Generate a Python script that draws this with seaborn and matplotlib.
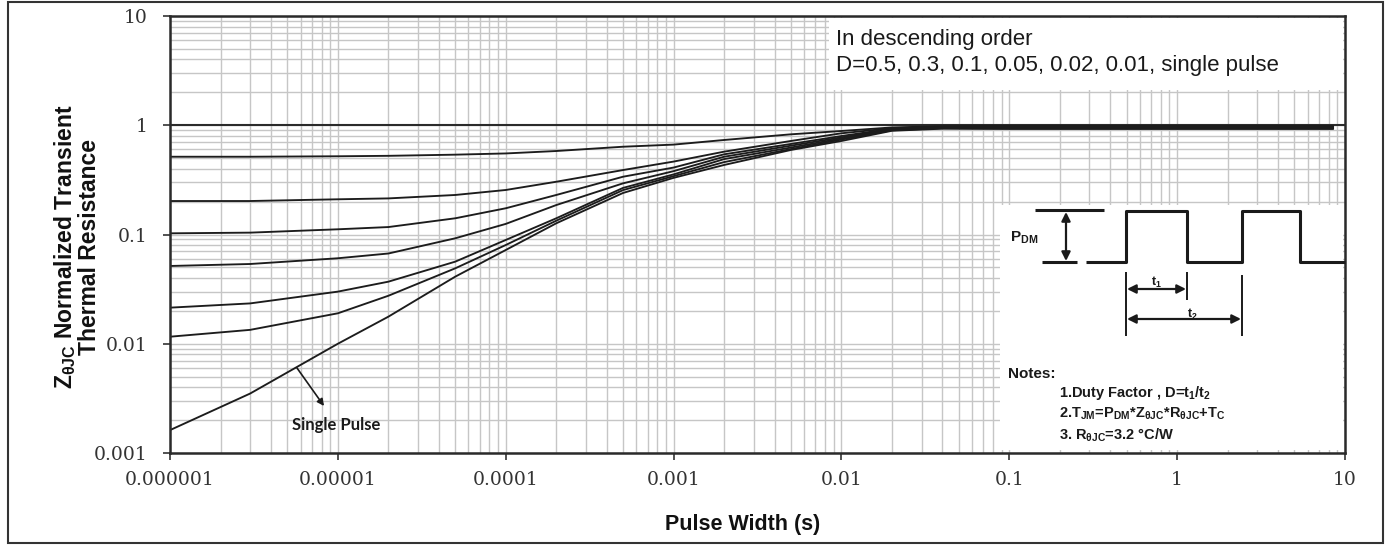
import numpy as np
import pandas as pd
import matplotlib
matplotlib.use("Agg")
import matplotlib.pyplot as plt
import seaborn as sns
from matplotlib.patches import Rectangle
from matplotlib.ticker import FixedLocator, FixedFormatter, LogLocator, NullFormatter

# ---------------- data ----------------
pulse_width = [1e-6, 3e-6, 1e-5, 2e-5, 5e-5, 1e-4, 2e-4, 5e-4, 1e-3, 2e-3, 5e-3, 1e-2, 2e-2, 4e-2, 0.1, 1, 8.5]
z_d050 = [0.515, 0.515, 0.520, 0.525, 0.538, 0.552, 0.581, 0.636, 0.665, 0.733, 0.826, 0.886, 0.955, 0.980, 0.985, 0.985, 0.985]
z_d030 = [0.2025, 0.2025, 0.210, 0.214, 0.230, 0.2555, 0.304, 0.389, 0.465, 0.573, 0.718, 0.844, 0.940, 0.970, 0.975, 0.975, 0.975]
z_d010 = [0.1025, 0.104, 0.1116, 0.117, 0.1407, 0.1738, 0.230, 0.338, 0.410, 0.542, 0.674, 0.797, 0.930, 0.960, 0.965, 0.965, 0.965]
z_d005 = [0.0515, 0.0537, 0.0606, 0.067, 0.0923, 0.125, 0.186, 0.294, 0.380, 0.515, 0.650, 0.775, 0.920, 0.955, 0.955, 0.955, 0.955]
z_d002 = [0.0214, 0.0234, 0.0300, 0.037, 0.0564, 0.0891, 0.1407, 0.267, 0.355, 0.490, 0.625, 0.757, 0.910, 0.950, 0.945, 0.945, 0.945]
z_d001 = [0.0116, 0.0134, 0.0190, 0.0275, 0.049, 0.0801, 0.1337, 0.255, 0.342, 0.460, 0.605, 0.740, 0.900, 0.940, 0.935, 0.935, 0.935]
z_single = [0.00162, 0.0035, 0.0100, 0.0177, 0.0411, 0.0721, 0.1266, 0.240, 0.330, 0.433, 0.594, 0.718, 0.890, 0.930, 0.925, 0.925, 0.925]
series_names = ["D=0.5", "D=0.3", "D=0.1", "D=0.05", "D=0.02", "D=0.01", "Single Pulse"]
series_values = [z_d050, z_d030, z_d010, z_d005, z_d002, z_d001, z_single]

x_ticks = [1e-6, 1e-5, 1e-4, 1e-3, 1e-2, 1e-1, 1, 10]
x_tick_labels = ["0.000001", "0.00001", "0.0001", "0.001", "0.01", "0.1", "1", "10"]
y_ticks = [0.001, 0.01, 0.1, 1, 10]
y_tick_labels = ["0.001", "0.01", "0.1", "1", "10"]

# ---------------- style ----------------
sns.set_theme(style="white")
plt.rcParams["font.family"] = ["Liberation Sans", "DejaVu Sans"]
plt.rcParams["mathtext.fontset"] = "custom"
plt.rcParams["mathtext.rm"] = "Liberation Sans:bold"
plt.rcParams["mathtext.it"] = "Liberation Sans:bold"
plt.rcParams["mathtext.bf"] = "Liberation Sans:bold"

W, H = 1391, 545
fig = plt.figure(figsize=(W / 100, H / 100), dpi=100)
AX_L, AX_R, AX_T, AX_B = 170, 1345, 16, 453
ax = fig.add_axes([AX_L / W, (H - AX_B) / H, (AX_R - AX_L) / W, (AX_B - AX_T) / H])


def axp(x, y):
    return ((x - AX_L) / (AX_R - AX_L), (AX_B - y) / (AX_B - AX_T))


long = pd.DataFrame(
    [(t, v, name) for name, vals in zip(series_names, series_values) for t, v in zip(pulse_width, vals)],
    columns=["t", "z", "series"],
)

ax.set_xscale("log")
ax.set_yscale("log")
ax.set_xlim(1e-6, 10)
ax.set_ylim(0.001, 10)
ax.set_axisbelow(True)

ax.axhline(1.0, color="#2b2b2b", lw=1.5, zorder=1.8)

sns.lineplot(data=long, x="t", y="z", hue="series", palette=["#1c1c1c"] * len(series_names),
             estimator=None, sort=False, legend=False, lw=1.35, ax=ax, zorder=2)

# grid
ax.xaxis.set_major_locator(FixedLocator(x_ticks))
ax.xaxis.set_major_formatter(FixedFormatter(x_tick_labels))
ax.yaxis.set_major_locator(FixedLocator(y_ticks))
ax.yaxis.set_major_formatter(FixedFormatter(y_tick_labels))
ax.xaxis.set_minor_locator(LogLocator(base=10, subs=np.arange(2, 10), numticks=50))
ax.yaxis.set_minor_locator(LogLocator(base=10, subs=np.arange(2, 10), numticks=50))
ax.xaxis.set_minor_formatter(NullFormatter())
ax.yaxis.set_minor_formatter(NullFormatter())
ax.grid(True, which="both", color="#c6c6c6", lw=1.0)

ax.tick_params(which="major", axis="both", direction="out", length=5, width=1.2, color="#333333",
               labelsize=13.5, labelcolor="#333333", bottom=True, left=True)
ax.tick_params(which="major", axis="y", pad=11)
ax.tick_params(which="major", axis="x", pad=8)
ax.tick_params(which="minor", length=0)
for lab in ax.get_xticklabels() + ax.get_yticklabels():
    lab.set_family("DejaVu Serif")

for s in ax.spines.values():
    s.set_color("#2a2a2a")
    s.set_linewidth(1.8)

ax.set_xlabel("Pulse Width (s)", fontsize=15.5, fontweight="bold", color="#111111", labelpad=18)
ax.xaxis.label.set_x((743 - AX_L) / (AX_R - AX_L))
ax.set_ylabel(r"$\mathrm{Z_{\theta JC}}$ Normalized Transient" + "\n" + "Thermal Resistance",
              fontsize=16.5, fontweight="bold", color="#111111", labelpad=-5, linespacing=1.0)
ax.yaxis.label.set_y(1 - (247 - AX_T) / (AX_B - AX_T))

# white boxes over the grid
x0, y0 = axp(829, 90)
x1, y1 = axp(1343, 18)
ax.add_patch(Rectangle((x0, y0), x1 - x0, y1 - y0, transform=ax.transAxes, facecolor="white",
                       edgecolor="none", zorder=1.5))
x0, y0 = axp(1000, 450)
x1, y1 = axp(1343, 205)
ax.add_patch(Rectangle((x0, y0), x1 - x0, y1 - y0, transform=ax.transAxes, facecolor="white",
                       edgecolor="none", zorder=1.5))

ax.text(*axp(836, 40), "In descending order", transform=ax.transAxes, fontsize=16,
        color="#1a1a1a", va="center", ha="left", zorder=3)
ax.text(*axp(836, 66), "D=0.5, 0.3, 0.1, 0.05, 0.02, 0.01, single pulse", transform=ax.transAxes,
        fontsize=16, color="#1a1a1a", va="center", ha="left", zorder=3)

# waveform diagram
lk = dict(transform=ax.transAxes, color="#1a1a1a", clip_on=False, zorder=3, solid_capstyle="butt")


def seg(pts, lw=2.2):
    xs, ys = zip(*[axp(px, py) for px, py in pts])
    ax.plot(xs, ys, lw=lw, **lk)


seg([(1035, 210), (1104, 210)])
seg([(1042, 262), (1077, 262)])
seg([(1086, 262), (1126, 262), (1126, 211), (1187, 211), (1187, 262), (1242, 262), (1242, 211),
     (1300, 211), (1300, 262), (1345, 262)])
seg([(1126, 272), (1126, 336)], lw=1.4)
seg([(1187, 272), (1187, 300)], lw=1.4)
seg([(1242, 275), (1242, 336)], lw=1.4)

arr = dict(arrowstyle="<|-|>", color="#1a1a1a", lw=1.6, mutation_scale=13, shrinkA=0, shrinkB=0)
ax.annotate("", xy=axp(1066, 212), xytext=axp(1066, 261), xycoords="axes fraction",
            textcoords="axes fraction", arrowprops=arr, zorder=3)
ax.annotate("", xy=axp(1127, 289), xytext=axp(1186, 289), xycoords="axes fraction",
            textcoords="axes fraction", arrowprops=arr, zorder=3)
ax.annotate("", xy=axp(1127, 319), xytext=axp(1241, 319), xycoords="axes fraction",
            textcoords="axes fraction", arrowprops=arr, zorder=3)

ax.text(*axp(1010, 238), r"P$_{DM}$", transform=ax.transAxes, fontsize=11, fontweight="bold",
        color="#1a1a1a", ha="left", va="center", zorder=3)
ax.text(*axp(1156, 282), r"t$_1$", transform=ax.transAxes, fontsize=9, fontweight="bold",
        color="#1a1a1a", ha="center", va="center", zorder=3)
ax.text(*axp(1192, 314), r"t$_2$", transform=ax.transAxes, fontsize=9, fontweight="bold",
        color="#1a1a1a", ha="center", va="center", zorder=3)

ax.text(*axp(1008, 374), "Notes:", transform=ax.transAxes, fontsize=11, fontweight="bold",
        color="#1a1a1a", ha="left", va="center", zorder=3)
notes = [r"1.Duty Factor , D=t$_1$/t$_2$",
         r"2.T$_{JM}$=P$_{DM}$*Z$_{\theta JC}$*R$_{\theta JC}$+T$_C$",
         r"3. R$_{\theta JC}$=3.2 °C/W"]
for txt, py in zip(notes, [393, 414, 435]):
    ax.text(*axp(1059, py), txt, transform=ax.transAxes, fontsize=10.5, fontweight="bold",
            color="#1a1a1a", ha="left", va="center", zorder=3)

# single pulse label
ax.annotate("", xy=axp(324, 406), xytext=axp(297, 368), xycoords="axes fraction",
            textcoords="axes fraction",
            arrowprops=dict(arrowstyle="-|>", color="#1a1a1a", lw=1.2, mutation_scale=10,
                            shrinkA=0, shrinkB=0), zorder=3)
ax.text(*axp(336, 425), "Single Pulse", transform=ax.transAxes, fontsize=12, fontweight="bold",
        family=["Lato", "DejaVu Sans"], color="#1a1a1a", ha="center", va="center", zorder=3)

# outer frame
fig.patches.append(Rectangle((8 / W, 1 - 543 / H), (1383 - 8) / W, (543 - 2) / H,
                             transform=fig.transFigure, fill=False, edgecolor="#333333", lw=1.5))

fig.savefig("out.png", dpi=100)
